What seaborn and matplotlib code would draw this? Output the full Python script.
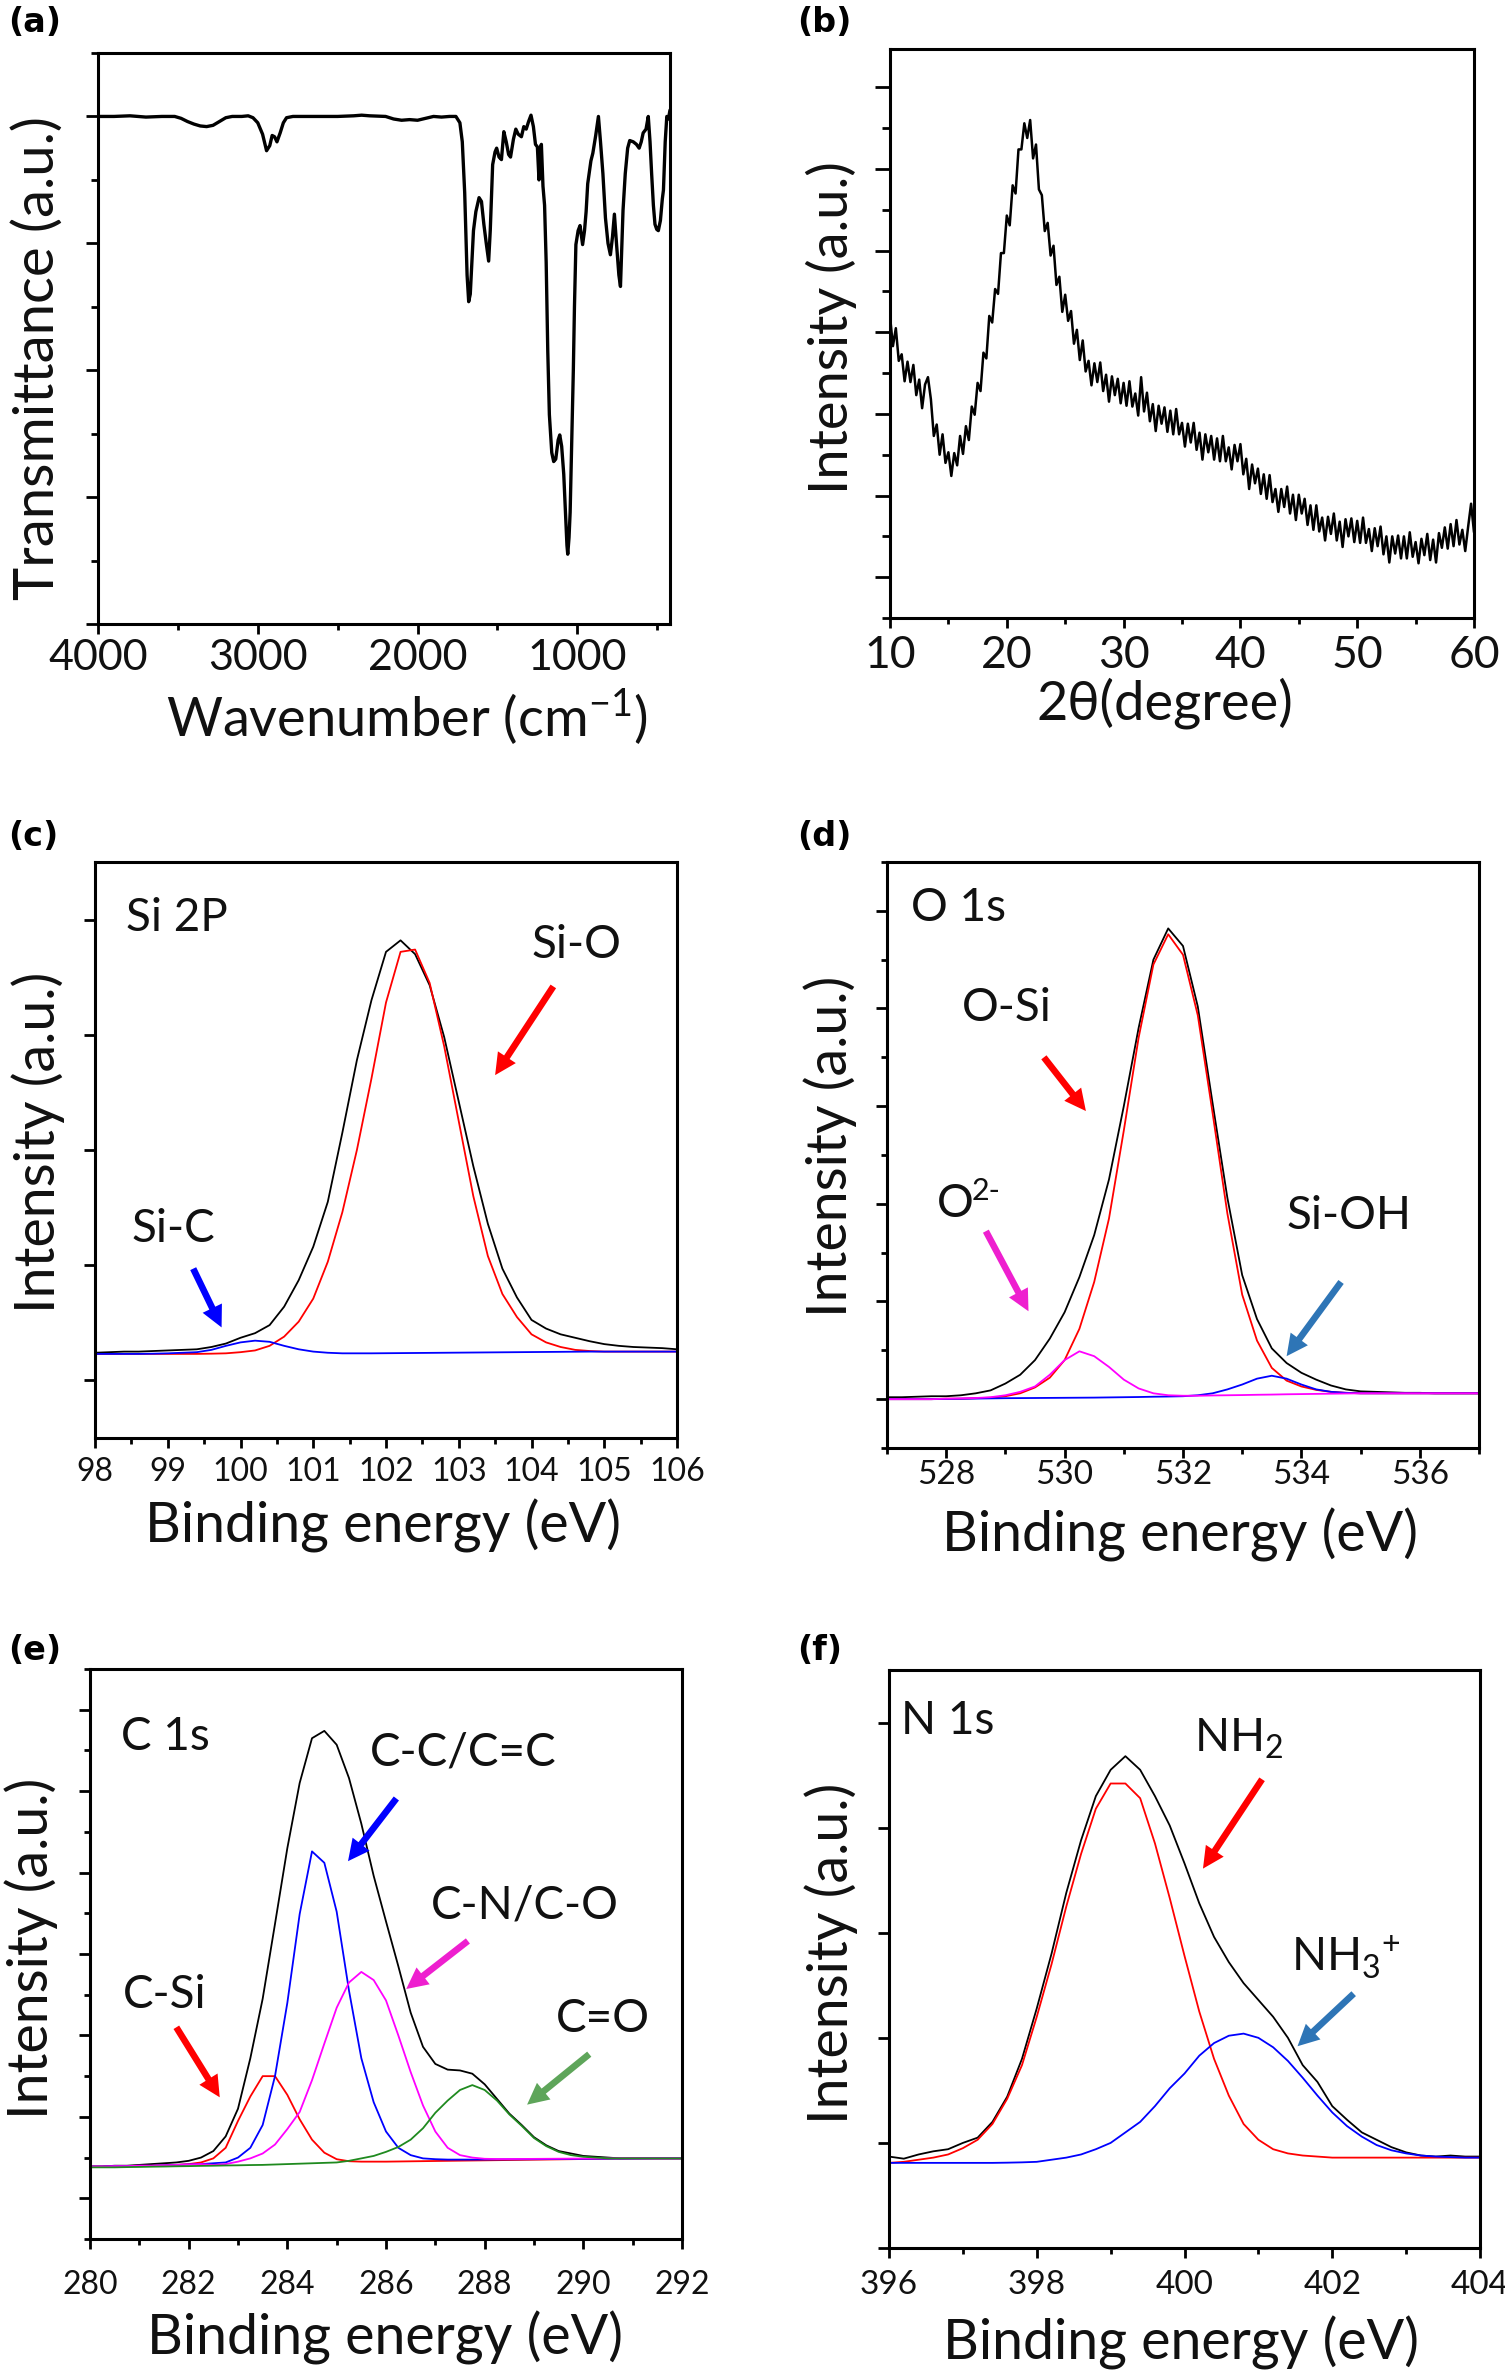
import numpy as np
import matplotlib
matplotlib.use("Agg")
import matplotlib.pyplot as plt
import seaborn as sns

# ---------------------------------------------------------------- data
# (a) FTIR
ftir_wavenumber = [4000, 3900, 3800, 3700, 3600, 3520, 3480, 3440, 3400, 3360, 3320, 3280, 3240, 3200,
                   3160, 3100, 3060, 3030, 3000, 2970, 2945, 2925, 2910, 2895, 2880, 2860, 2840, 2820,
                   2780, 2700, 2600, 2500, 2400, 2350, 2300, 2200, 2150, 2100, 2050, 2000, 1950, 1900,
                   1850, 1800, 1760, 1735, 1720, 1705, 1690, 1680, 1670, 1660, 1650, 1635, 1615, 1600,
                   1585, 1570, 1555, 1545, 1530, 1515, 1505, 1490, 1475, 1460, 1445, 1430, 1418, 1400,
                   1385, 1370, 1350, 1335, 1320, 1305, 1290, 1275, 1262, 1250, 1240, 1232, 1225, 1215,
                   1205, 1195, 1185, 1175, 1160, 1148, 1135, 1120, 1110, 1098, 1085, 1075, 1065, 1060,
                   1052, 1045, 1035, 1025, 1018, 1009, 995, 983, 967, 955, 945, 935, 915, 903, 885, 868,
                   855, 840, 824, 808, 793, 780, 768, 755, 740, 730, 722, 714, 700, 685, 672, 650, 630,
                   613, 600, 588, 570, 556, 545, 535, 524, 514, 503, 493, 480, 468, 461, 450, 440, 430, 420]
ftir_transmittance = [4.00, 4.00, 4.005, 3.995, 4.00, 4.00, 3.985, 3.96, 3.94, 3.925, 3.92, 3.93, 3.96, 3.99,
                      4.00, 4.00, 4.005, 3.99, 3.95, 3.86, 3.73, 3.77, 3.85, 3.84, 3.80, 3.87, 3.95, 3.99,
                      4.00, 4.00, 4.00, 4.00, 4.005, 4.01, 4.005, 4.00, 3.98, 3.97, 3.975, 3.97, 3.985, 4.00,
                      3.995, 4.00, 4.00, 3.95, 3.80, 3.40, 2.75, 2.54, 2.60, 2.85, 3.10, 3.25, 3.36, 3.33,
                      3.15, 3.00, 2.86, 3.10, 3.62, 3.72, 3.75, 3.68, 3.66, 3.88, 3.80, 3.70, 3.68, 3.82,
                      3.90, 3.86, 3.84, 3.92, 3.90, 3.96, 4.01, 3.92, 3.78, 3.76, 3.50, 3.75, 3.78, 3.45,
                      3.30, 2.85, 2.15, 1.65, 1.35, 1.28, 1.30, 1.45, 1.49, 1.40, 1.18, 0.90, 0.62, 0.55,
                      0.68, 0.88, 1.45, 2.00, 2.50, 2.99, 3.10, 3.14, 2.99, 3.10, 3.25, 3.47, 3.65, 3.71, 3.85, 4.00,
                      3.80, 3.55, 3.20, 3.00, 2.91, 3.05, 3.23, 3.00, 2.75, 2.66, 2.95, 3.26, 3.55, 3.75, 3.81, 3.80, 3.78,
                      3.75, 3.80, 3.87, 3.90, 4.00, 3.80, 3.55, 3.30, 3.15, 3.11, 3.10, 3.18, 3.35, 3.42, 3.80, 4.00, 3.98, 4.05]

# (b) XRD, 2-theta sampled every 0.25 degree from 10 to 60
xrd_two_theta = np.linspace(10, 60, 201)
xrd_intensity = [3.70, 3.33, 3.55, 3.15, 3.23, 2.90, 3.14, 2.89, 3.10, 2.73, 2.92, 2.57, 2.86, 2.95, 2.68, 2.23,
                 2.37, 2.00, 2.25, 1.90, 2.03, 1.74, 2.02, 1.87, 2.23, 2.01, 2.35, 2.18, 2.59, 2.49, 2.88, 2.78,
                 3.25, 3.18, 3.70, 3.62, 4.03, 3.97, 4.47, 4.47, 4.93, 4.81, 5.30, 5.20, 5.74, 5.74, 6.06, 5.88,
                 6.10, 5.63, 5.80, 5.25, 5.18, 4.74, 4.84, 4.44, 4.56, 4.08, 4.18, 3.75, 3.96, 3.64, 3.76, 3.36,
                 3.53, 3.16, 3.40, 3.02, 3.15, 2.85, 3.12, 2.89, 3.13, 2.78, 2.98, 2.65, 2.96, 2.73, 2.93, 2.63,
                 2.88, 2.60, 2.90, 2.59, 2.75, 2.48, 2.95, 2.53, 2.76, 2.41, 2.62, 2.29, 2.60, 2.38, 2.58, 2.28,
                 2.54, 2.25, 2.56, 2.25, 2.39, 2.10, 2.38, 2.15, 2.39, 2.06, 2.27, 1.94, 2.25, 2.03, 2.23, 1.94,
                 2.20, 1.92, 2.23, 1.92, 2.09, 1.82, 2.12, 1.92, 2.13, 1.76, 1.95, 1.58, 1.88, 1.65, 1.83, 1.52,
                 1.76, 1.46, 1.75, 1.42, 1.58, 1.30, 1.58, 1.36, 1.61, 1.28, 1.51, 1.20, 1.51, 1.28, 1.46, 1.14,
                 1.38, 1.08, 1.38, 1.06, 1.23, 0.95, 1.24, 1.03, 1.28, 0.95, 1.18, 0.87, 1.21, 1.00, 1.22, 0.93,
                 1.19, 0.92, 1.23, 0.92, 1.09, 0.82, 1.10, 0.88, 1.12, 0.78, 1.00, 0.68, 1.00, 0.79, 1.01, 0.73,
                 1.00, 0.73, 1.05, 0.75, 0.93, 0.67, 0.97, 0.77, 1.03, 0.71, 0.96, 0.68, 1.04, 0.86, 1.11, 0.85,
                 1.15, 0.88, 1.20, 0.90, 1.08, 0.82, 1.12, 1.40, 1.05]

# (c) Si 2p, binding energy every 0.2 eV from 98 to 106
si_energy = np.linspace(98, 106, 41)
si_envelope = [0.24, 0.245, 0.25, 0.25, 0.255, 0.26, 0.265, 0.27, 0.29, 0.32, 0.37, 0.41, 0.48, 0.64, 0.87,
               1.16, 1.55, 2.15, 2.78, 3.30, 3.72, 3.82, 3.70, 3.43, 2.98, 2.42, 1.86, 1.36, 0.97, 0.72,
               0.525, 0.45, 0.40, 0.37, 0.34, 0.315, 0.30, 0.29, 0.285, 0.28, 0.27]
si_sio = [0.23, 0.23, 0.23, 0.23, 0.23, 0.23, 0.23, 0.23, 0.232, 0.235, 0.245, 0.26, 0.30, 0.38, 0.51,
          0.71, 1.03, 1.46, 2.00, 2.62, 3.28, 3.72, 3.74, 3.45, 2.90, 2.25, 1.60, 1.08, 0.75, 0.55,
          0.40, 0.33, 0.29, 0.265, 0.255, 0.25, 0.25, 0.25, 0.25, 0.25, 0.25]
si_sic = [0.23, 0.23, 0.23, 0.23, 0.232, 0.235, 0.24, 0.245, 0.265, 0.30, 0.33, 0.345, 0.335, 0.30, 0.27,
          0.25, 0.24, 0.235, 0.235, 0.235, 0.236, 0.237, 0.238, 0.239, 0.24, 0.241, 0.242, 0.243, 0.244, 0.245,
          0.246, 0.247, 0.248, 0.249, 0.25, 0.25, 0.25, 0.25, 0.25, 0.25, 0.25]

# (d) O 1s, every 0.25 eV from 527 to 537
o_energy = np.linspace(527, 537, 41)
o_envelope = [0.02, 0.02, 0.025, 0.03, 0.03, 0.04, 0.06, 0.09, 0.16, 0.25, 0.40, 0.62, 0.89, 1.25, 1.68,
              2.25, 3.00, 3.80, 4.50, 4.82, 4.64, 4.02, 3.03, 2.06, 1.27, 0.82, 0.52, 0.37, 0.27, 0.20,
              0.14, 0.10, 0.08, 0.075, 0.07, 0.065, 0.065, 0.06, 0.06, 0.06, 0.06]
o_osi = [0.0, 0.0, 0.0, 0.0, 0.005, 0.005, 0.01, 0.015, 0.03, 0.06, 0.12, 0.22, 0.40, 0.72, 1.20,
         1.85, 2.75, 3.70, 4.45, 4.76, 4.55, 3.93, 2.93, 1.90, 1.07, 0.60, 0.32, 0.19, 0.13, 0.095,
         0.075, 0.065, 0.06, 0.06, 0.06, 0.06, 0.06, 0.06, 0.06, 0.06, 0.06]
o_o2 = [0.0, 0.0, 0.0, 0.0, 0.005, 0.008, 0.012, 0.02, 0.04, 0.075, 0.13, 0.25, 0.40, 0.49, 0.44,
        0.33, 0.20, 0.11, 0.06, 0.04, 0.035, 0.035, 0.038, 0.04, 0.042, 0.045, 0.047, 0.05, 0.052, 0.054,
        0.056, 0.058, 0.06, 0.06, 0.06, 0.06, 0.06, 0.06, 0.06, 0.06, 0.06]
o_sioh = [0.0, 0.0, 0.0, 0.0, 0.002, 0.004, 0.006, 0.008, 0.01, 0.011, 0.012, 0.013, 0.014, 0.015, 0.016,
          0.018, 0.02, 0.022, 0.025, 0.027, 0.03, 0.04, 0.06, 0.10, 0.15, 0.21, 0.24, 0.21, 0.15, 0.10,
          0.075, 0.065, 0.06, 0.06, 0.06, 0.06, 0.06, 0.06, 0.06, 0.06, 0.06]

# (e) C 1s, every 0.25 eV from 280 to 292
c_energy = np.linspace(280, 292, 49)
c_envelope = [0.39, 0.39, 0.40, 0.40, 0.41, 0.42, 0.43, 0.44, 0.46, 0.50, 0.58, 0.76, 1.10, 1.72, 2.45, 3.37,
              4.30, 5.10, 5.65, 5.74, 5.57, 5.16, 4.60, 3.96, 3.40, 2.85, 2.28, 1.86, 1.65, 1.58, 1.57, 1.53,
              1.40, 1.22, 1.04, 0.90, 0.75, 0.65, 0.58, 0.55, 0.52, 0.51, 0.50, 0.49, 0.49, 0.49, 0.49, 0.49, 0.49]
c_csi = [0.39, 0.39, 0.395, 0.395, 0.40, 0.40, 0.405, 0.41, 0.42, 0.44, 0.49, 0.62, 0.95, 1.25, 1.50, 1.50,
         1.27, 0.97, 0.72, 0.56, 0.48, 0.455, 0.45, 0.45, 0.45, 0.452, 0.454, 0.456, 0.458, 0.46, 0.462, 0.464,
         0.466, 0.468, 0.47, 0.472, 0.474, 0.476, 0.478, 0.48, 0.482, 0.484, 0.486, 0.488, 0.49, 0.49, 0.49, 0.49, 0.49]
c_cc = [0.39, 0.39, 0.395, 0.395, 0.40, 0.40, 0.405, 0.41, 0.415, 0.42, 0.43, 0.44, 0.50, 0.62, 0.90, 1.50,
        2.40, 3.49, 4.26, 4.12, 3.52, 2.55, 1.72, 1.18, 0.82, 0.62, 0.53, 0.49, 0.48, 0.475, 0.475, 0.475,
        0.476, 0.477, 0.478, 0.479, 0.48, 0.481, 0.482, 0.483, 0.484, 0.485, 0.486, 0.487, 0.488, 0.489, 0.49, 0.49, 0.49]
c_cn = [0.39, 0.39, 0.395, 0.395, 0.40, 0.40, 0.405, 0.41, 0.415, 0.42, 0.41, 0.42, 0.45, 0.49, 0.55, 0.66,
        0.85, 1.06, 1.45, 1.90, 2.34, 2.65, 2.78, 2.68, 2.43, 2.00, 1.55, 1.14, 0.82, 0.62, 0.53, 0.50,
        0.485, 0.482, 0.482, 0.483, 0.484, 0.485, 0.486, 0.487, 0.488, 0.489, 0.49, 0.49, 0.49, 0.49, 0.49, 0.49, 0.49]
c_co = [0.38, 0.38, 0.38, 0.383, 0.385, 0.388, 0.39, 0.393, 0.395, 0.398, 0.40, 0.403, 0.405, 0.408, 0.41, 0.415,
        0.42, 0.425, 0.43, 0.435, 0.44, 0.46, 0.49, 0.52, 0.57, 0.63, 0.72, 0.86, 1.05, 1.20, 1.33, 1.39,
        1.33, 1.20, 1.03, 0.89, 0.74, 0.64, 0.57, 0.53, 0.51, 0.50, 0.49, 0.49, 0.49, 0.49, 0.49, 0.49, 0.49]

# (f) N 1s, every 0.2 eV from 396 to 404
n_energy = np.linspace(396, 404, 41)
n_envelope = [-0.13, -0.15, -0.11, -0.08, -0.06, 0.0, 0.05, 0.20, 0.44, 0.80,
              1.28, 1.80, 2.38, 2.88, 3.30, 3.55, 3.68, 3.55, 3.30, 3.02,
              2.66, 2.28, 1.96, 1.72, 1.52, 1.36, 1.20, 1.00, 0.74, 0.58,
              0.35, 0.22, 0.10, 0.03, -0.04, -0.09, -0.12, -0.13, -0.12, -0.13, -0.13]
n_nh2 = [-0.19, -0.18, -0.16, -0.14, -0.11, -0.05, 0.03, 0.18, 0.42, 0.74,
         1.20, 1.70, 2.25, 2.75, 3.18, 3.42, 3.42, 3.28, 2.85, 2.33,
         1.78, 1.25, 0.80, 0.45, 0.18, 0.03, -0.06, -0.10, -0.12, -0.13,
         -0.14, -0.14, -0.14, -0.14, -0.14, -0.14, -0.14, -0.14, -0.14, -0.14, -0.14]
n_nh3 = [-0.19, -0.19, -0.19, -0.19, -0.19, -0.19, -0.19, -0.19, -0.188, -0.185,
         -0.18, -0.16, -0.14, -0.11, -0.06, 0.0, 0.10, 0.20, 0.35, 0.52,
         0.66, 0.83, 0.95, 1.02, 1.04, 1.00, 0.91, 0.78, 0.62, 0.45,
         0.29, 0.16, 0.06, -0.02, -0.07, -0.10, -0.12, -0.13, -0.135, -0.14, -0.14]

# ---------------------------------------------------------------- style
sns.set_theme(style="white")
plt.rcParams['font.family'] = ['Lato', 'DejaVu Sans']
plt.rcParams['mathtext.default'] = 'regular'
plt.rcParams['axes.unicode_minus'] = True

TXT = '#111111'
RED = '#ff0000'
BLUE = '#0000ff'
MAG = '#ff00ff'
GREEN = '#1f8a1f'

W, H = 1505, 2376
fig = plt.figure(figsize=(W / 100, H / 100), dpi=100)


def make_ax(l, t, r, b):
    return fig.add_axes([l / W, 1 - b / H, (r - l) / W, (b - t) / H])


def style(ax, tick_fs, pad, xmaj, xmin, ymaj, ymin, ymaj_len=8, ymin_len=4.5, xmaj_len=7, xmin_len=4):
    for s in ax.spines.values():
        s.set_visible(True)
        s.set_color('black')
        s.set_linewidth(2.2)
    ax.grid(False)
    ax.set_xticks(xmaj)
    ax.set_xticks(xmin, minor=True)
    ax.set_yticks(ymaj)
    ax.set_yticks(ymin, minor=True)
    ax.tick_params(which='both', direction='out', top=False, right=False, left=True, bottom=True,
                   color='black', width=2.0)
    ax.tick_params(axis='x', which='major', length=xmaj_len, labelsize=tick_fs, pad=pad, labelcolor=TXT)
    ax.tick_params(axis='x', which='minor', length=xmin_len)
    ax.tick_params(axis='y', which='major', length=ymaj_len)
    ax.tick_params(axis='y', which='minor', length=ymin_len)
    ax.tick_params(axis='y', which='both', labelleft=False)


def labels(ax, xl, yl, fs, xpos, ypos, yfs=None):
    ax.set_xlabel(xl, fontsize=fs, color=TXT)
    ax.set_ylabel(yl, fontsize=yfs or fs, color=TXT)
    ax.xaxis.set_label_coords(*xpos)
    ax.yaxis.set_label_coords(*ypos)
    ax.xaxis.label.set_va('center')
    ax.yaxis.label.set_va('center')


def line(ax, x, y, color, lw=1.3):
    sns.lineplot(x=x, y=y, ax=ax, color=color, linewidth=lw, estimator=None, sort=False)


def arrow(ax, tail, head, color):
    ax.annotate('', xy=head, xytext=tail,
                arrowprops=dict(arrowstyle='simple,head_width=1.1,head_length=1.1,tail_width=0.34',
                                fc=color, ec=color, lw=0, mutation_scale=14, shrinkA=0, shrinkB=0))


def note(ax, x, y, s, fs=33):
    ax.text(x, y, s, fontsize=fs, color=TXT, ha='left', va='center')


# ---------------------------------------------------------------- (a)
ax = make_ax(98, 53, 670, 624)
line(ax, ftir_wavenumber, ftir_transmittance, 'black', lw=2.4)
ax.set_xlim(4000, 420)
ax.set_ylim(0, 4.5)
style(ax, 31, 4, [4000, 3000, 2000, 1000], [3500, 2500, 1500, 500],
      [0, 1, 2, 3, 4], [0.5, 1.5, 2.5, 3.5, 4.5], ymaj_len=9, ymin_len=5)
labels(ax, 'Wavenumber (cm$^{-1}$)', 'Transmittance (a.u.)', 39, (0.54, -0.164), (-0.105, 0.466), yfs=40.5)

# ---------------------------------------------------------------- (b)
ax = make_ax(890, 49, 1474, 618)
line(ax, xrd_two_theta, xrd_intensity, 'black', lw=1.8)
ax.set_xlim(10, 60)
ax.set_ylim(0, 6.97)
style(ax, 32, 5, [10, 20, 30, 40, 50, 60], [15, 25, 35, 45, 55],
      [0.5, 1.5, 2.5, 3.5, 4.5, 5.5, 6.5], [0, 1, 2, 3, 4, 5, 6], ymaj_len=11, ymin_len=6)
labels(ax, '2θ(degree)', 'Intensity (a.u.)', 39, (0.471, -0.149), (-0.101, 0.511))

# ---------------------------------------------------------------- (c)
ax = make_ax(95, 862, 677, 1438)
line(ax, si_energy, si_envelope, 'black')
line(ax, si_energy, si_sio, RED)
line(ax, si_energy, si_sic, BLUE)
ax.set_xlim(98, 106)
ax.set_ylim(-0.5, 4.5)
style(ax, 23, 7, list(range(98, 107)), [98.5 + i for i in range(8)],
      [0, 1, 2, 3, 4], [], ymaj_len=8)
labels(ax, 'Binding energy (eV)', 'Intensity (a.u.)', 40, (0.495, -0.152), (-0.097, 0.514))
note(ax, 98.42, 4.01, 'Si 2P')
note(ax, 104.0, 3.78, 'Si-O')
note(ax, 98.5, 1.31, 'Si-C')
arrow(ax, (104.30, 3.42), (103.50, 2.65), RED)
arrow(ax, (99.35, 0.97), (99.74, 0.46), BLUE)

# ---------------------------------------------------------------- (d)
ax = make_ax(887, 862, 1479, 1448)
line(ax, o_energy, o_envelope, 'black')
line(ax, o_energy, o_osi, RED)
line(ax, o_energy, o_sioh, BLUE)
line(ax, o_energy, o_o2, MAG)
ax.set_xlim(527, 537)
ax.set_ylim(-0.5, 5.5)
style(ax, 24, 2, [528, 530, 532, 534, 536], [527, 529, 531, 533, 535, 537],
      [0, 1, 2, 3, 4, 5], [-0.5, 0.5, 1.5, 2.5, 3.5, 4.5, 5.5], ymaj_len=8, ymin_len=4.5)
labels(ax, 'Binding energy (eV)', 'Intensity (a.u.)', 40, (0.495, -0.148), (-0.096, 0.514))
note(ax, 527.4, 5.03, 'O 1s')
note(ax, 528.26, 4.01, 'O-Si')
note(ax, 527.85, 2.0, 'O')
ax.annotate('2-', xy=(527.85, 2.0), xytext=(25, 9), textcoords='offset points',
            fontsize=22, color=TXT, ha='left', va='center')
note(ax, 533.75, 1.875, 'Si-OH')
arrow(ax, (529.65, 3.50), (530.36, 2.95), RED)
arrow(ax, (528.67, 1.72), (529.39, 0.90), '#ee1fcf')
arrow(ax, (534.67, 1.20), (533.75, 0.44), '#2e75b6')

# ---------------------------------------------------------------- (e)
ax = make_ax(90, 1669, 682, 2239)
line(ax, c_energy, c_envelope, 'black')
line(ax, c_energy, c_csi, RED)
line(ax, c_energy, c_cc, BLUE)
line(ax, c_energy, c_cn, MAG)
line(ax, c_energy, c_co, GREEN)
ax.set_xlim(280, 292)
ax.set_ylim(-0.5, 6.5)
style(ax, 23, 15, [280, 282, 284, 286, 288, 290, 292], [281, 283, 285, 287, 289, 291],
      [0, 1, 2, 3, 4, 5, 6], [-0.5, 0.5, 1.5, 2.5, 3.5, 4.5, 5.5, 6.5], ymaj_len=8, ymin_len=4.5)
labels(ax, 'Binding energy (eV)', 'Intensity (a.u.)', 40, (0.498, -0.173), (-0.099, 0.51))
note(ax, 280.62, 5.66, 'C 1s')
note(ax, 285.67, 5.47, 'C-C/C=C')
note(ax, 286.9, 3.59, 'C-N/C-O')
note(ax, 280.67, 2.5, 'C-Si')
note(ax, 289.45, 2.2, 'C=O')
arrow(ax, (286.21, 4.91), (285.23, 4.14), BLUE)
arrow(ax, (287.66, 3.16), (286.41, 2.57), '#ee1fcf')
arrow(ax, (281.75, 2.10), (282.63, 1.24), RED)
arrow(ax, (290.12, 1.77), (288.86, 1.15), '#5ea55a')

# ---------------------------------------------------------------- (f)
ax = make_ax(889, 1670, 1480, 2248)
line(ax, n_energy, n_envelope, 'black')
line(ax, n_energy, n_nh2, RED)
line(ax, n_energy, n_nh3, BLUE)
ax.set_xlim(396, 404)
ax.set_ylim(-1.0, 4.5)
style(ax, 24, 9, [396, 398, 400, 402, 404], [397, 399, 401, 403],
      [-1, 0, 1, 2, 3, 4], [], ymaj_len=8)
labels(ax, 'Binding energy (eV)', 'Intensity (a.u.)', 40, (0.494, -0.164), (-0.098, 0.51))
note(ax, 396.16, 4.01, 'N 1s')
note(ax, 400.13, 3.84, 'NH$_2$')
note(ax, 401.44, 1.76, 'NH$_3$$^{+}$')
arrow(ax, (401.05, 3.46), (400.25, 2.61), RED)
arrow(ax, (402.29, 1.42), (401.53, 0.92), '#2e75b6')

# ---------------------------------------------------------------- panel letters
for s, x, y in [('(a)', 8, 23), ('(b)', 797, 23), ('(c)', 8, 836), ('(d)', 797, 836),
                ('(e)', 8, 1650), ('(f)', 797, 1650)]:
    fig.text(x / W, 1 - y / H, s, fontsize=24, fontweight='bold', family='DejaVu Sans',
             ha='left', va='center', color='black')

fig.savefig('out.png', dpi=100, facecolor='white')
